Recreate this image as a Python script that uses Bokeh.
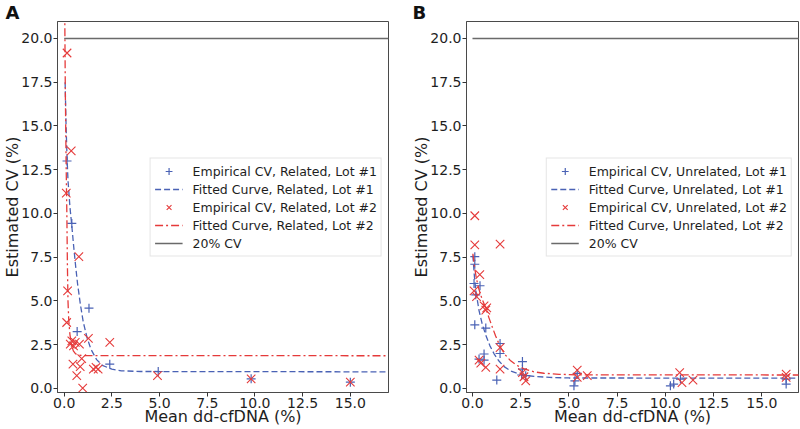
from bokeh.plotting import figure
from bokeh.models import (Range1d, FixedTicker, PrintfTickFormatter, Legend,
                          LegendItem)
from bokeh.layouts import row
from bokeh.embed import file_html
from bokeh.resources import INLINE

# ---------------- data ----------------
# Panel A : Related
a_emp1_x = [0.15, 0.40, 0.68, 1.30, 2.39, 4.93, 9.80, 15.0]
a_emp1_y = [13.0, 9.43, 3.25, 4.59, 1.39, 0.97, 0.55, 0.36]
a_fit1_x = [0.05, 0.10, 0.15, 0.20, 0.30, 0.40, 0.50, 0.60, 0.70, 0.85, 1.00,
            1.20, 1.40, 1.70, 2.00, 2.50, 3.00, 4.00, 17.0]
a_fit1_y = [17.5, 15.0, 13.2, 11.9, 10.4, 9.3, 8.1, 7.0, 6.0, 4.8, 3.8,
            2.9, 2.25, 1.65, 1.32, 1.10, 1.01, 0.97, 0.95]
a_emp2_x = [0.15, 0.37, 0.11, 0.77, 0.18, 0.13, 0.40, 0.32, 0.58, 0.49, 0.80,
            1.27, 2.39, 0.92, 0.46, 0.84, 1.53, 1.67, 1.78, 0.66, 0.97, 4.89,
            9.80, 15.0]
a_emp2_y = [19.17, 13.58, 11.16, 7.53, 5.58, 3.77, 2.72, 2.54, 2.63, 2.44, 2.54,
            2.86, 2.63, 1.70, 1.39, 1.25, 1.11, 1.20, 1.11, 0.73, 0.02, 0.73,
            0.55, 0.36]
a_fit2_x = [0.03, 0.06, 0.10, 0.14, 0.17, 0.20, 0.24, 0.30, 0.38, 0.48, 0.60,
            0.80, 1.00, 17.0]
a_fit2_y = [21.5, 17.0, 13.0, 10.0, 7.0, 5.0, 3.9, 3.1, 2.5, 2.15, 1.98,
            1.90, 1.88, 1.87]

# Panel B : Unrelated
b_emp1_x = [0.12, 0.12, 0.08, 0.39, 0.17, 0.69, 0.12, 1.43, 1.43, 0.60, 0.34,
            0.60, 1.26, 2.59, 2.59, 2.55, 2.76, 5.43, 5.31, 5.26, 10.26, 10.43,
            10.78, 16.26, 16.26]
b_emp1_y = [7.53, 7.10, 6.00, 5.87, 5.35, 3.45, 3.64, 2.57, 2.00, 1.97, 1.68,
            1.62, 0.48, 1.54, 1.11, 0.77, 0.73, 0.86, 0.44, 0.15, 0.15, 0.25,
            0.54, 0.54, 0.25]
b_fit1_x = [0.02, 0.10, 0.17, 0.34, 0.50, 0.69, 0.90, 1.12, 1.35, 1.64, 2.00,
            2.33, 2.80, 3.20, 4.00, 5.00, 17.0]
b_fit1_y = [7.6, 6.4, 5.6, 4.45, 3.7, 3.05, 2.45, 1.98, 1.6, 1.25, 0.99,
            0.86, 0.74, 0.69, 0.63, 0.60, 0.59]
b_emp2_x = [0.12, 0.12, 1.43, 0.38, 0.08, 0.21, 0.60, 0.74, 0.69, 1.43, 0.34,
            0.43, 0.69, 1.43, 2.59, 2.67, 2.76, 5.43, 5.43, 5.95, 10.74, 10.86,
            11.43, 16.26, 16.26]
b_emp2_y = [9.87, 8.21, 8.25, 6.50, 5.58, 5.25, 4.72, 4.60, 4.48, 2.34, 1.62,
            1.45, 1.20, 1.10, 0.91, 0.67, 0.44, 1.05, 0.63, 0.73, 0.91, 0.34,
            0.48, 0.82, 0.63]
b_fit2_x = [0.02, 0.10, 0.20, 0.34, 0.50, 0.69, 0.85, 1.03, 1.20, 1.43, 1.70,
            1.98, 2.30, 2.67, 3.20, 3.70, 4.50, 5.43, 17.0]
b_fit2_y = [7.7, 7.0, 6.3, 5.65, 5.1, 4.6, 4.05, 3.5, 3.0, 2.4, 1.92,
            1.58, 1.32, 1.12, 0.95, 0.87, 0.81, 0.78, 0.77]

cv_limit = 20.0
cv_line_x = [0.0, 17.0]
x_ticks = [0.0, 2.5, 5.0, 7.5, 10.0, 12.5, 15.0]
y_ticks = [0.0, 2.5, 5.0, 7.5, 10.0, 12.5, 15.0, 17.5, 20.0]

# ---------------- styling ----------------
BLUE = "#4a62b5"
RED = "#e53a3a"
GRAY = "#6a6a6a"
FONT = "DejaVu Sans"
TXT = "#1e1e1e"
Y0, Y1 = -0.23, 20.97


def make_panel(tag, group, x0, x1, width, bl, br, tag_offset,
               e1x, e1y, f1x, f1y, e2x, e2y, f2x, f2y):
    p = figure(width=width, height=429, output_backend="svg",
               toolbar_location=None,
               x_range=Range1d(x0, x1), y_range=Range1d(Y0, Y1),
               min_border_left=bl, min_border_right=br,
               min_border_top=21, min_border_bottom=37)
    p.grid.visible = False
    p.outline_line_color = "#4a4a4a"
    p.outline_line_width = 1
    p.background_fill_color = "white"
    p.border_fill_color = "white"

    p.title.text = tag
    p.title.align = "left"
    p.title.offset = tag_offset
    p.title.standoff = -3
    p.title.text_font = FONT
    p.title.text_font_size = "18px"
    p.title.text_font_style = "bold"
    p.title.text_color = "#111111"

    for ax in (p.xaxis[0], p.yaxis[0]):
        ax.axis_line_color = "#4a4a4a"
        ax.major_tick_out = 4
        ax.major_tick_in = 0
        ax.minor_tick_line_color = None
        ax.major_tick_line_color = "#333333"
        ax.major_label_text_font = FONT
        ax.major_label_text_font_size = "14px"
        ax.major_label_text_color = TXT
        ax.major_label_standoff = 1
        ax.formatter = PrintfTickFormatter(format="%.1f")
        ax.axis_label_text_font = FONT
        ax.axis_label_text_font_size = "16px"
        ax.axis_label_text_font_style = "normal"
        ax.axis_label_text_color = TXT
        ax.axis_label_standoff = -4
    p.xaxis[0].ticker = FixedTicker(ticks=x_ticks)
    p.yaxis[0].ticker = FixedTicker(ticks=y_ticks)
    p.xaxis[0].axis_label = "Mean dd-cfDNA (%)"
    p.yaxis[0].axis_label = "Estimated CV (%)"

    r1 = p.scatter(e1x, e1y, marker="cross", size=9, line_color=BLUE,
                   line_width=1.2)
    r2 = p.line(f1x, f1y, line_color=BLUE, line_width=1.3, line_dash="6 3")
    r3 = p.scatter(e2x, e2y, marker="x", size=12, line_color=RED,
                   line_width=1.1)
    r4 = p.line(f2x, f2y, line_color=RED, line_width=1.3,
                line_dash="8 3 2 3")
    r5 = p.line(cv_line_x, [cv_limit, cv_limit], line_color=GRAY,
                line_width=1.3)

    legend = Legend(items=[
        LegendItem(label=f"Empirical CV, {group}, Lot #1", renderers=[r1]),
        LegendItem(label=f"Fitted Curve, {group}, Lot #1", renderers=[r2]),
        LegendItem(label=f"Empirical CV, {group}, Lot #2", renderers=[r3]),
        LegendItem(label=f"Fitted Curve, {group}, Lot #2", renderers=[r4]),
        LegendItem(label="20% CV", renderers=[r5]),
    ], location="right")
    legend.label_text_font = FONT
    legend.label_text_font_size = "12.5px"
    legend.label_text_color = TXT
    legend.glyph_width = 28
    legend.glyph_height = 17
    legend.label_height = 17
    legend.label_standoff = 10
    legend.spacing = 1
    legend.padding = 4
    legend.margin = 6
    legend.border_line_color = "#cccccc"
    legend.border_line_width = 1
    legend.background_fill_alpha = 0.85
    p.add_layout(legend)
    return p


pa = make_panel("A", "Related", -0.35, 17.0, 400, 54, 12, -52,
                a_emp1_x, a_emp1_y, a_fit1_x, a_fit1_y,
                a_emp2_x, a_emp2_y, a_fit2_x, a_fit2_y)
pb = make_panel("B", "Unrelated", -0.31, 16.9, 400, 66, 2, -54,
                b_emp1_x, b_emp1_y, b_fit1_x, b_fit1_y,
                b_emp2_x, b_emp2_y, b_fit2_x, b_fit2_y)

layout = row(pa, pb)
open("out.html", "w").write(file_html(layout, INLINE))
